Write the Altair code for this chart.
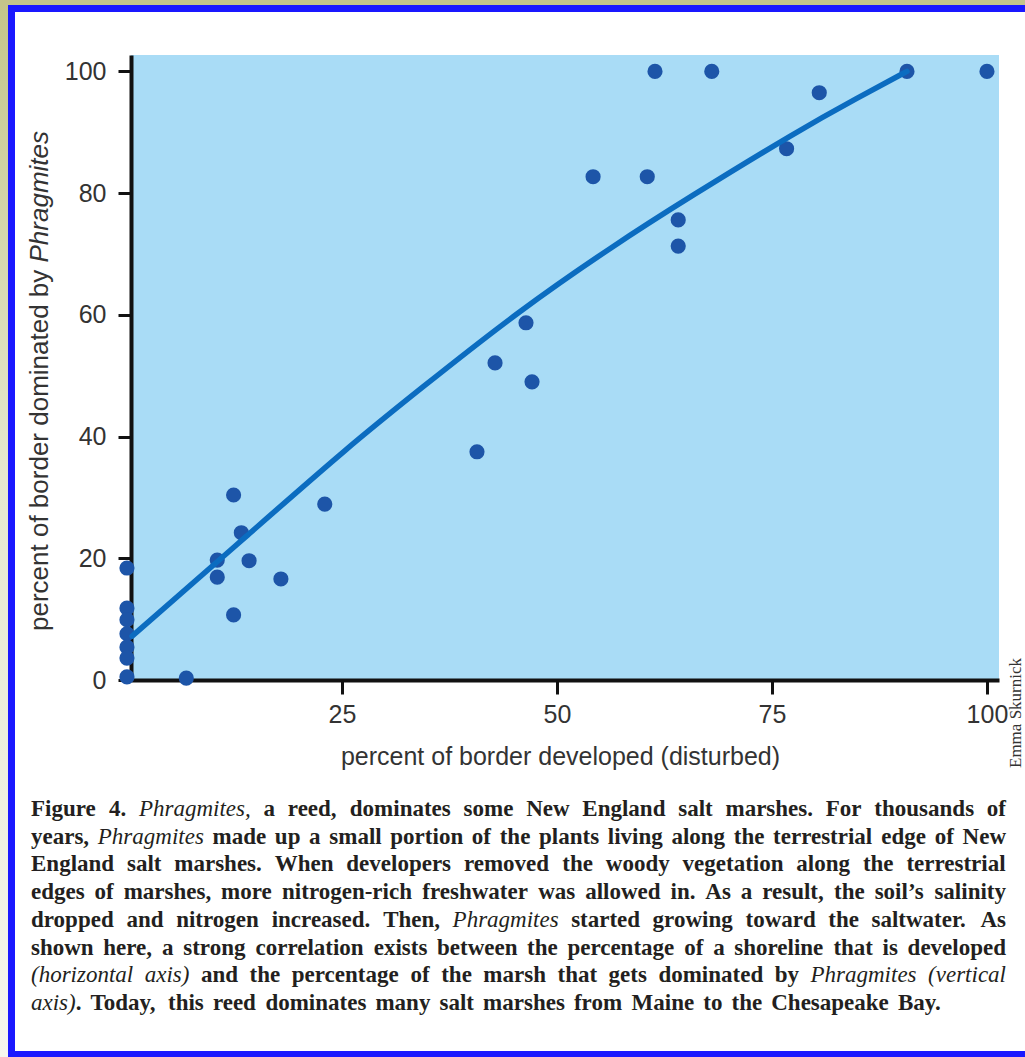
import altair as alt
import pandas as pd

# ---------------- data ----------------
x_developed = [0, 0, 0, 0, 0, 0, 0, 6.9, 10.5, 10.5, 12.4, 13.3, 12.4, 14.2, 17.9,
               23.0, 40.7, 42.8, 46.4, 47.1, 54.2, 60.5, 61.4, 64.1, 64.1, 68.0,
               76.7, 80.5, 90.7, 100]
y_dominated = [18.4, 11.8, 9.9, 7.6, 5.4, 3.6, 0.5, 0.3, 19.7, 16.9, 30.4, 24.2, 10.7,
               19.6, 16.6, 28.9, 37.5, 52.1, 58.7, 49.0, 82.7, 82.7, 100, 75.6, 71.3,
               100, 87.3, 96.5, 100, 100]
curve_x = [0.6, 14.2, 25.8, 33.9, 45.5, 56.8, 65.0, 78.2, 85.0, 90.7]
curve_y = [7.2, 24.0, 38.4, 47.6, 60.6, 71.6, 79.0, 90.4, 95.7, 100]
x_ticks = [25, 50, 75, 100]
y_ticks = [0, 20, 40, 60, 80, 100]

x_title = "percent of border developed (disturbed)"
y_title_plain = "percent of border dominated by "
y_title_italic = "Phragmites"
credit = "Emma Skurnick"

caption_lines = [
    [("Figure 4. ", "b"), ("Phragmites,", "i"),
     (" a reed, dominates some New England salt marshes. For thousands of", "b")],
    [("years, ", "b"), ("Phragmites", "i"),
     (" made up a small portion of the plants living along the terrestrial edge of New", "b")],
    [("England salt marshes. When developers removed the woody vegetation along the terrestrial", "b")],
    [("edges of marshes, more nitrogen-rich freshwater was allowed in. As a result, the soil\u2019s salinity", "b")],
    [("dropped and nitrogen increased. Then, ", "b"), ("Phragmites", "i"),
     (" started growing toward the saltwater. As", "b")],
    [("shown here, a strong correlation exists between the percentage of a shoreline that is developed", "b")],
    [("(horizontal axis)", "i"), (" and the percentage of the marsh that gets dominated by ", "b"),
     ("Phragmites (vertical", "i")],
    [("axis)", "i"), (". Today, this reed dominates many salt marshes from Maine to the Chesapeake Bay.", "b")],
]

# ---------------- layout constants ----------------
PAD_L, PAD_T = 131, 55
W, H = 868, 625
TOTAL_W, TOTAL_H = 1025, 1057

# font metric tables (per 1000 em) used to lay out justified caption words
TB = dict(zip("abcdefghijklmnopqrstuvwxyz",
              [500, 556, 444, 556, 444, 333, 500, 556, 278, 333, 556, 278, 833, 556, 500,
               556, 556, 444, 389, 333, 556, 500, 722, 500, 500, 444]))
TB.update(dict(zip("ABCDEFGHIJKLMNOPQRSTUVWXYZ",
                   [722, 667, 722, 722, 667, 611, 778, 778, 389, 500, 778, 667, 944, 722, 778,
                    611, 778, 722, 556, 667, 722, 722, 1000, 722, 722, 667])))
TB.update({" ": 250, ",": 250, ".": 250, "(": 333, ")": 333, "-": 333, "\u2019": 333, "4": 500})
TI = dict(zip("abcdefghijklmnopqrstuvwxyz",
              [500, 500, 444, 500, 444, 278, 500, 500, 278, 278, 444, 278, 722, 500, 500,
               500, 500, 389, 389, 278, 500, 444, 667, 444, 444, 389]))
TI.update({"P": 611, " ": 250, ",": 250, ".": 250, "(": 333, ")": 333})
HV = dict(zip("abcdefghijklmnopqrstuvwxyz",
              [556, 556, 500, 556, 556, 278, 556, 556, 222, 222, 500, 222, 833, 556, 556,
               556, 556, 333, 500, 278, 556, 500, 722, 500, 500, 500]))
HV.update({" ": 278})

CAP_FS = 23
CAP_LEFT, CAP_RIGHT = 31, 1006
CAP_Y0, CAP_DY = 816, 27.7
LAST_RIGHT = 942


def wlen(txt, style, fs):
    table = TB if style == "b" else TI
    return sum(table.get(c, 500) for c in txt) * fs / 1000.0


rows = []
for li, segs in enumerate(caption_lines):
    chars = [(c, s) for txt, s in segs for c in txt]
    words, cur = [], []
    for c, s in chars:
        if c == " ":
            if cur:
                words.append(cur)
            cur = []
        else:
            if cur and cur[-1][1] == s:
                cur[-1] = (cur[-1][0] + c, s)
            else:
                cur.append((c, s))
    if cur:
        words.append(cur)
    widths = [sum(wlen(t, s, CAP_FS) for t, s in w) for w in words]
    right = LAST_RIGHT if li == len(caption_lines) - 1 else CAP_RIGHT
    gap = (right - CAP_LEFT - sum(widths)) / (len(words) - 1)
    x = CAP_LEFT
    ybase = CAP_Y0 + li * CAP_DY
    for w, wd in zip(words, widths):
        xx = x
        for t, s in w:
            rows.append({"t": t, "s": s, "px": xx - PAD_L, "py": ybase - PAD_T})
            xx += wlen(t, s, CAP_FS)
        x += wd + gap
cap_df = pd.DataFrame(rows)

pts = pd.DataFrame({"x": x_developed, "y": y_dominated})
crv = pd.DataFrame({"x": curve_x, "y": curve_y})

xscale = alt.Scale(domain=[0.47, 101.4], nice=False, zero=False)
yscale = alt.Scale(domain=[0, 102.7], nice=False, zero=False)

one = alt.Data(values=[{"a": 1}])

# page decorations
olive_left = alt.Chart(one).mark_rect(
    fill={"gradient": "linear", "x1": 0, "y1": 0, "x2": 0, "y2": 1,
          "stops": [{"offset": 0, "color": "#c4c58a"}, {"offset": 0.45, "color": "#e6e8cf"},
                    {"offset": 1, "color": "#f6f6ee"}]}
).encode(x=alt.value(-PAD_L), x2=alt.value(8 - PAD_L), y=alt.value(-PAD_T),
         y2=alt.value(TOTAL_H - PAD_T))
olive_top = alt.Chart(one).mark_rect(fill="#c4c58a").encode(
    x=alt.value(-PAD_L), x2=alt.value(TOTAL_W - PAD_L), y=alt.value(-PAD_T), y2=alt.value(5 - PAD_T))
frame = alt.Chart(one).mark_rect(filled=False, stroke="#1a18ff", strokeWidth=7).encode(
    x=alt.value(11.5 - PAD_L), x2=alt.value(1040 - PAD_L),
    y=alt.value(8.5 - PAD_T), y2=alt.value(1054.5 - PAD_T))

points = alt.Chart(pts).mark_circle(size=230, color="#1d55a8", opacity=1).encode(
    x=alt.X("x:Q", scale=xscale,
            axis=alt.Axis(values=x_ticks, title=None, grid=False, tickSize=14, labelPadding=8)),
    y=alt.Y("y:Q", scale=yscale,
            axis=alt.Axis(values=y_ticks, title=None, grid=False, tickSize=13, labelPadding=12)),
)
curve = alt.Chart(crv).mark_line(color="#0b6cc0", strokeWidth=5.5, interpolate="basis",
                                 strokeCap="round").encode(
    x=alt.X("x:Q", scale=xscale), y=alt.Y("y:Q", scale=yscale))

xt = alt.Chart(one).mark_text(text=x_title, font="Liberation Sans", fontSize=25, color="#333333",
                              align="center", baseline="alphabetic").encode(
    x=alt.value(560.5 - PAD_L), y=alt.value(765 - PAD_T))

yt_start = 631
plain_w = sum(HV.get(c, 556) for c in y_title_plain) * 26 / 1000.0
yt1 = alt.Chart(one).mark_text(text=y_title_plain, font="Liberation Sans", fontSize=26,
                               color="#333333", align="left", baseline="alphabetic",
                               angle=270).encode(
    x=alt.value(48 - PAD_L), y=alt.value(yt_start - PAD_T))
yt2 = alt.Chart(one).mark_text(text=y_title_italic, font="Liberation Sans", fontSize=26,
                               fontStyle="italic", color="#333333", align="left",
                               baseline="alphabetic", angle=270).encode(
    x=alt.value(48 - PAD_L), y=alt.value(yt_start - plain_w - PAD_T))

cred = alt.Chart(one).mark_text(text=credit, font="Liberation Serif", fontSize=17,
                                color="#333333", align="left", baseline="alphabetic",
                                angle=270).encode(
    x=alt.value(1021 - PAD_L), y=alt.value(768 - PAD_T))

cap_b = alt.Chart(cap_df[cap_df.s == "b"]).mark_text(
    font="Liberation Serif", fontSize=CAP_FS, fontWeight="bold", color="#231f20",
    align="left", baseline="alphabetic").encode(
    x=alt.X("px:Q", scale=None, axis=None), y=alt.Y("py:Q", scale=None, axis=None), text="t:N")
cap_i = alt.Chart(cap_df[cap_df.s == "i"]).mark_text(
    font="Liberation Serif", fontSize=CAP_FS, fontStyle="italic", color="#231f20",
    align="left", baseline="alphabetic").encode(
    x=alt.X("px:Q", scale=None, axis=None), y=alt.Y("py:Q", scale=None, axis=None), text="t:N")

chart = alt.layer(
    olive_left, olive_top, frame, points, curve, xt, yt1, yt2, cred, cap_b, cap_i
).properties(
    width=W, height=H,
    autosize=alt.AutoSizeParams(type="none"),
    padding={"left": PAD_L, "top": PAD_T, "right": TOTAL_W - PAD_L - W,
             "bottom": TOTAL_H - PAD_T - H},
    background="white",
).configure_view(
    fill="#a9dcf6", stroke=None
).configure_axis(
    domainColor="#111111", domainWidth=4, tickColor="#111111", tickWidth=3,
    labelFont="Liberation Sans", labelFontSize=25, labelColor="#333333",
)

chart.save("out.html", embed_options={"renderer": "svg", "actions": False})
